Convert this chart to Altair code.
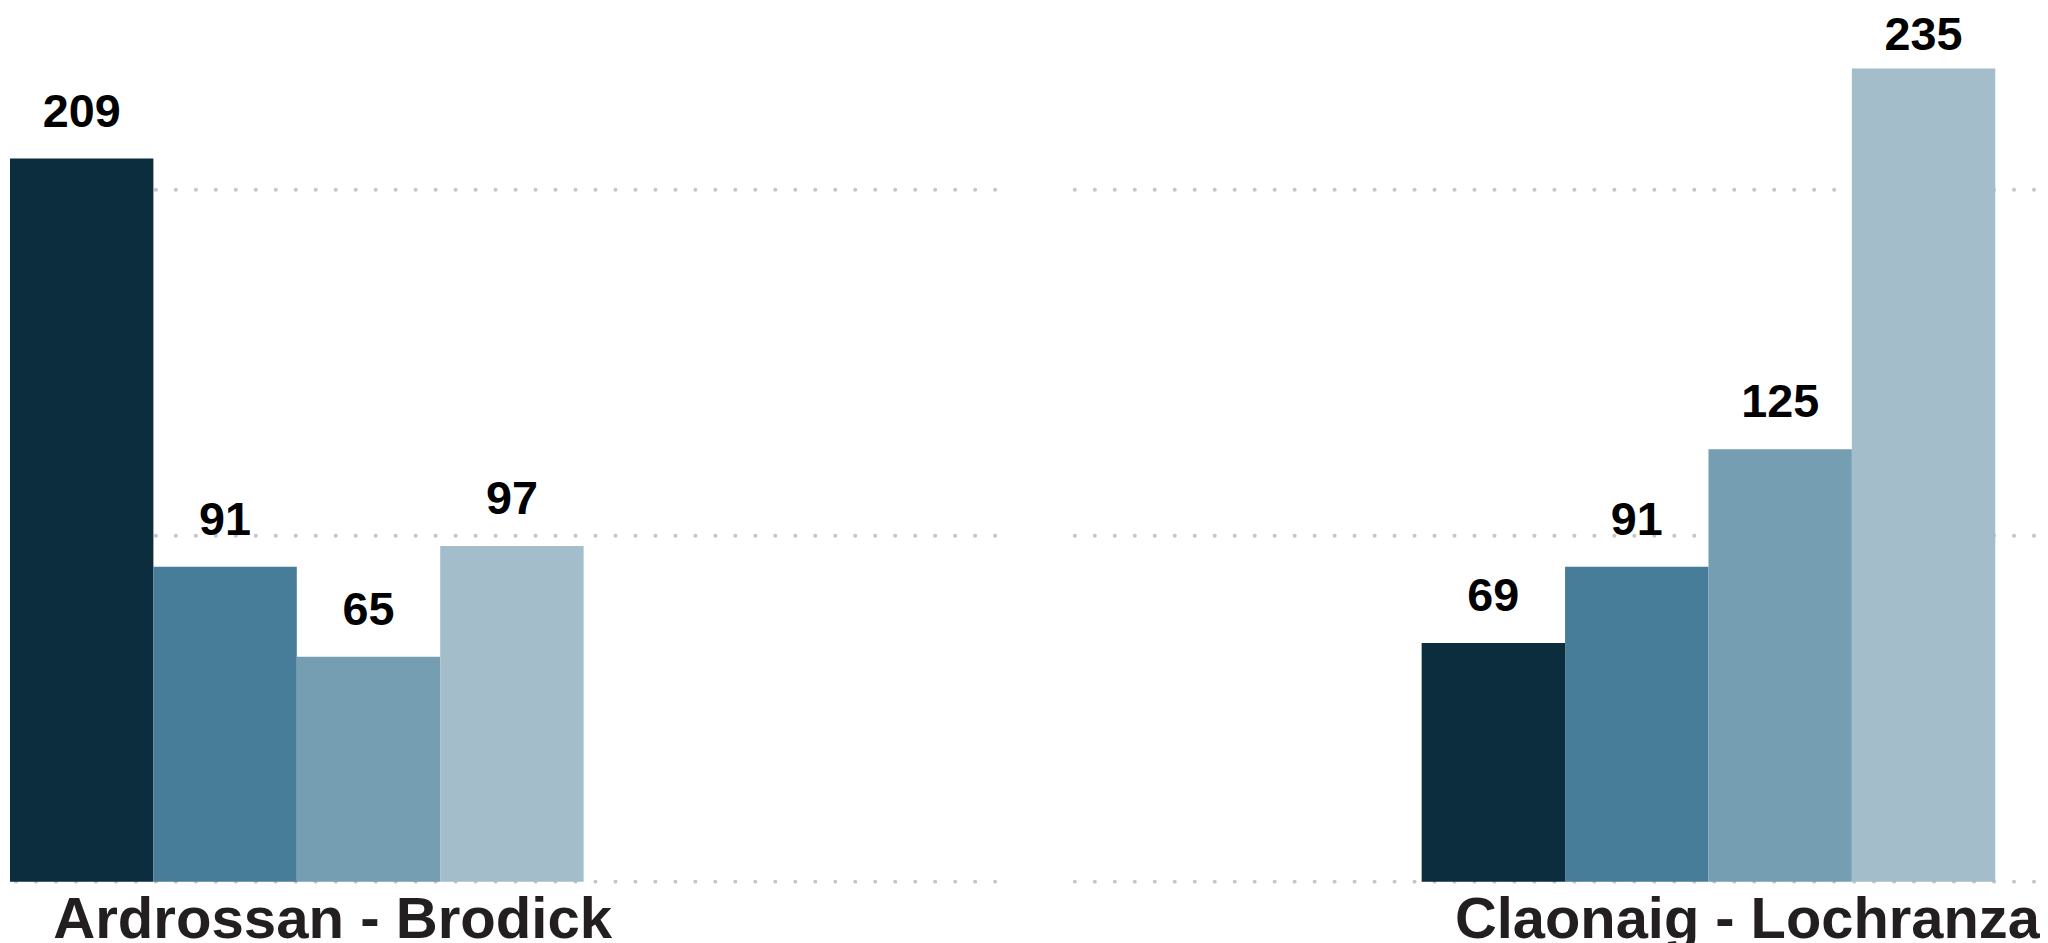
import altair as alt
import pandas as pd

routes = ["Ardrossan - Brodick", "Claonaig - Lochranza"]
series = ["Series 1", "Series 2", "Series 3", "Series 4"]
values_ardrossan = [209, 91, 65, 97]
values_claonaig = [69, 91, 125, 235]
colors = ["#0c2d3e", "#477d98", "#759eb2", "#a3bdca"]
grid_values = [0, 100, 200]

FONT = "Liberation Sans"
PLOT_H = 876
Y_MAX = 251.7


def panel(route, values, width, band_range, title_x, title_size):
    df = pd.DataFrame({"series": series, "value": values})
    grid_df = pd.DataFrame({"grid": grid_values})
    xscale = alt.Scale(paddingInner=0, paddingOuter=0, range=band_range)
    yscale = alt.Scale(domain=[0, Y_MAX], nice=False, zero=True)
    xenc = alt.X(
        "series:N",
        sort=series,
        scale=xscale,
        axis=alt.Axis(
            labels=False, ticks=False, domain=False, grid=False,
            title=route, titleFont=FONT, titleFontSize=title_size, titleFontWeight="bold",
            titleColor="#231f20", titleX=title_x, titleY=56, titleAlign="left",
            titleBaseline="alphabetic", titleLimit=3000,
        ),
    )
    grid = alt.Chart(grid_df).mark_rule(
        color="#c6c6c6", strokeWidth=4, strokeCap="round", strokeDash=[0.1, 20],
    ).encode(y=alt.Y("grid:Q", scale=yscale, axis=None))
    bars = alt.Chart(df).mark_bar().encode(
        x=xenc,
        y=alt.Y("value:Q", scale=yscale, axis=None),
        color=alt.Color("series:N", scale=alt.Scale(domain=series, range=colors), legend=None),
    )
    labels = alt.Chart(df).transform_calculate(
        ly="min(datum.value, 231.3)"
    ).mark_text(
        dy=-32, baseline="alphabetic", align="center", fontSize=47,
        fontWeight="bold", font=FONT, color="#000000",
    ).encode(
        x=alt.X("series:N", sort=series),
        y=alt.Y("ly:Q", scale=yscale, axis=None),
        text="value:Q",
    )
    return alt.layer(grid, bars, labels).properties(width=width, height=PLOT_H)


left = panel(routes[0], values_ardrossan, 991, [0, 577], 43, 58.5)
right = panel(routes[1], values_claonaig, 983, [367, 944], 400, 58.2)

chart = alt.hconcat(left, right, spacing=58).properties(
    padding={"left": 0, "top": 0, "right": 0, "bottom": 0},
    background="white",
).configure_view(stroke=None)

chart.save("out.html", embed_options={"renderer": "svg", "actions": False})
